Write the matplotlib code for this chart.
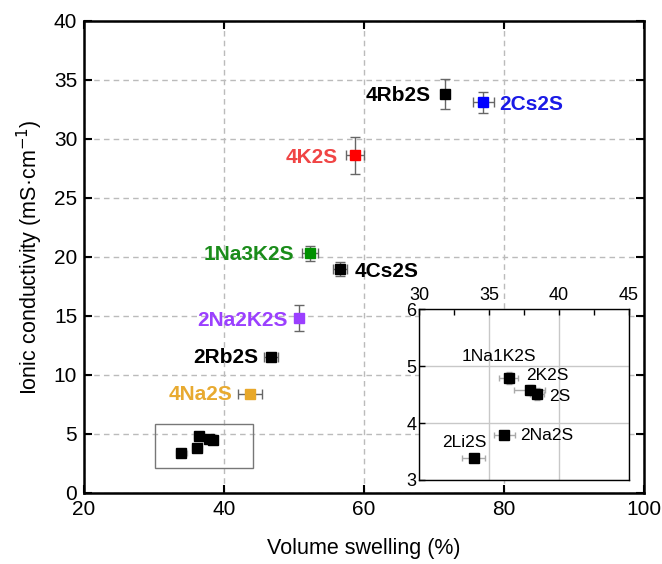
import matplotlib
matplotlib.use("Agg")
import matplotlib.pyplot as plt
from matplotlib.patches import Rectangle

plt.rcParams['font.family'] = ['Liberation Sans', 'DejaVu Sans']

# Labeled main points
names = ["4Rb2S", "2Cs2S", "4K2S", "1Na3K2S", "4Cs2S", "2Na2K2S", "2Rb2S", "4Na2S"]
swell = [71.6, 77.0, 58.7, 52.3, 56.6, 50.7, 46.7, 43.7]
cond = [33.8, 33.1, 28.6, 20.3, 19.0, 14.8, 11.5, 8.4]
swell_err = [0.0, 1.5, 1.3, 1.1, 1.0, 0.0, 1.0, 1.7]
cond_err = [1.25, 0.9, 1.6, 0.65, 0.6, 1.1, 0.15, 0.2]
marker_colors = ["#000000", "#0000ff", "#ff0000", "#009000", "#000000", "#9b40ff", "#000000", "#e8a82a"]
text_colors = ["#000000", "#1a1ae6", "#f04545", "#1a8c1a", "#000000", "#9b40ff", "#000000", "#e8aa30"]

# Small points (shown also in inset)
small_names = ["1Na1K2S", "2K2S", "2S", "2Na2S", "2Li2S"]
small_swell = [36.4, 37.9, 38.4, 36.1, 33.9]
small_cond = [4.79, 4.58, 4.51, 3.79, 3.39]
small_swell_err = [0.65, 1.1, 0.5, 0.75, 0.8]
small_cond_err = [0.1, 0.08, 0.1, 0.0, 0.0]

fig = plt.figure(figsize=(6.62, 5.64), dpi=100)
ax = fig.add_axes([0.127, 0.126, 0.846, 0.837])

for x, y, xe, ye, mc in zip(swell, cond, swell_err, cond_err, marker_colors):
    ax.errorbar(x, y, xerr=xe, yerr=ye, fmt='s', color=mc, markersize=7,
                ecolor='#666666', elinewidth=1, capsize=3.5, capthick=1, zorder=3)
for x, y, xe, ye in zip(small_swell, small_cond, small_swell_err, small_cond_err):
    ax.errorbar(x, y, xerr=xe, yerr=ye, fmt='s', color='black', markersize=7,
                ecolor='#bbbbbb', elinewidth=1, capsize=2, capthick=1, zorder=3)

# label offsets in pixels (dx, dy, ha)
offsets = [(-15, -1, 'right'), (16, -2, 'left'), (-17, -2, 'right'), (-16, -1, 'right'),
           (14, -3, 'left'), (-11, -2, 'right'), (-13, 0, 'right'), (-17, -1, 'right')]
for n, x, y, tc, (dx, dy, ha) in zip(names, swell, cond, text_colors, offsets):
    ax.annotate(n, (x, y), xytext=(dx, dy), textcoords='offset pixels', ha=ha, va='center',
                fontsize=15, fontweight='bold', color=tc)

ax.set_xlim(20, 100)
ax.set_ylim(0, 40)
ax.set_xticks([20, 40, 60, 80, 100])
ax.set_yticks(range(0, 41, 5))
ax.grid(True, linestyle=(0, (4, 3)), color='#bbbbbb', linewidth=1)
ax.set_axisbelow(True)
ax.tick_params(direction='in', length=6, width=1.5, top=True, right=True,
               labelsize=15, pad=5)
for s in ax.spines.values():
    s.set_linewidth(1.8)
ax.set_xlabel("Volume swelling (%)", fontsize=15.5, labelpad=14)
ax.set_ylabel("Ionic conductivity (mS·cm$^{-1}$)", fontsize=15.5, labelpad=6)

ax.add_patch(Rectangle((30.2, 2.1), 13.9, 3.75, fill=False, edgecolor='#777777', linewidth=1, zorder=2))

# Inset
axi = fig.add_axes([0.633, 0.149, 0.317, 0.303])
for x, y, xe, ye in zip(small_swell, small_cond, small_swell_err, small_cond_err):
    axi.errorbar(x, y, xerr=xe, yerr=ye, fmt='s', color='black', markersize=7,
                 ecolor='#aaaaaa', elinewidth=1, capsize=2, capthick=1, zorder=3)
inset_offsets = [(-10, 21, 'center'), (-3, 14, 'left'), (13, -3, 'left'), (16, -1, 'left'), (-9, 15, 'center')]
for n, x, y, (dx, dy, ha) in zip(small_names, small_swell, small_cond, inset_offsets):
    axi.annotate(n, (x, y), xytext=(dx, dy), textcoords='offset pixels', ha=ha, va='center',
                 fontsize=12.5)
axi.set_xlim(30, 45)
axi.set_ylim(3, 6)
axi.set_xticks([30, 35, 40, 45])
axi.set_xticks([32.5, 37.5, 42.5], minor=True)
axi.set_yticks([3, 4, 5, 6])
axi.grid(True, color='#c8c8c8', linewidth=1)
axi.set_axisbelow(True)
axi.xaxis.tick_top()
axi.tick_params(axis='x', which='both', direction='in', length=4, width=1, labelsize=13,
                top=True, bottom=False, labeltop=True, labelbottom=False, pad=4)
axi.tick_params(axis='y', direction='in', length=4, width=1, labelsize=13, pad=2)
for s in axi.spines.values():
    s.set_linewidth(1)

fig.savefig("out.png", dpi=100)
